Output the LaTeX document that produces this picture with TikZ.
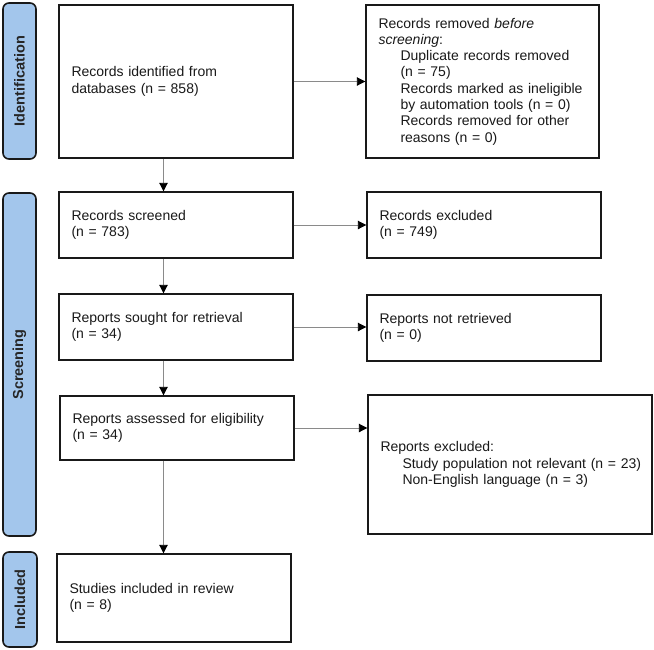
\documentclass[tikz,border=0pt]{standalone}
\usepackage{fontspec}
\setmainfont{Liberation Sans}
\usetikzlibrary{arrows.meta}
\definecolor{phaseblue}{HTML}{A3C6EC}
\definecolor{linegray}{HTML}{8A8A8A}
\tikzset{
  phase/.style={draw=black!90, line width=1.6pt, fill=phaseblue, rounded corners=6pt},
  phaselabel/.style={rotate=90, font=\fontsize{14.5}{17}\selectfont\bfseries, text=black!85},
  flowbox/.style={draw=black!90, line width=1.4pt, fill=white, inner xsep=12.5pt, inner ysep=0pt,
    align=left, font=\fontsize{14}{16.3}\selectfont, text=black!90},
  arr/.style={draw=linegray, line width=0.9pt,
    -{Triangle[length=8.5pt,width=8.5pt,color=black,fill=black]}},
}
\newcommand{\ind}{\hspace*{22pt}}
% place a box node from its corner coordinates (x1,y1)-(x2,y2)
\newcommand{\flowboxat}[6]{%
  \pgfmathsetmacro{\bw}{#4-#2}\pgfmathsetmacro{\bh}{#5-#3}%
  \pgfmathsetmacro{\tw}{\bw-25}%
  \node[flowbox, minimum width=\bw pt, minimum height=\bh pt, text width=\tw pt]
    (#1) at ({(#2+#4)/2},{(#3+#5)/2}) {#6};}
\begin{document}
\begin{tikzpicture}[x=1pt, y=-1pt]
\useasboundingbox (0,0) rectangle (654,649);

% phase bars
\draw[phase] (3,3) rectangle (36,159);
\node[phaselabel] (pid) at (19.5,81) {Identification};
\draw[phase] (3,193) rectangle (36,536);
\node[phaselabel] (psc) at (19.5,364.5) {Screening};
\draw[phase] (3,552) rectangle (37,647);
\node[phaselabel] (pin) at (20,599.5) {Included};

% boxes
\flowboxat{b1}{59}{5}{293}{158}{Records identified from\\databases (n = 858)}
\flowboxat{b2}{366}{5}{599}{158}{Records removed \emph{before}\\\emph{screening}:\\
  \ind Duplicate records removed\\\ind (n = 75)\\
  \ind Records marked as ineligible\\\ind by automation tools (n = 0)\\
  \ind Records removed for other\\\ind reasons (n = 0)}
\flowboxat{b3}{59}{192}{293}{258}{Records screened\\(n = 783)}
\flowboxat{b4}{367}{192}{601}{258}{Records excluded\\(n = 749)}
\flowboxat{b5}{59}{294}{293}{360}{Reports sought for retrieval\\(n = 34)}
\flowboxat{b6}{367}{295}{601}{361}{Reports not retrieved\\(n = 0)}
\flowboxat{b7}{60}{396}{294}{460}{Reports assessed for eligibility\\(n = 34)}
\flowboxat{b8}{368}{395}{652}{534}{Reports excluded:\\
  \ind\mbox{Study population not relevant (n = 23)}\\
  \ind Non-English language (n = 3)\\[6pt]}
\flowboxat{b9}{57}{554}{291}{642}{Studies included in review\\(n = 8)}

% main column of vertical connectors
\coordinate (colx) at (163.5,0);
\draw[arr] (b1.south -| colx) -- (b3.north -| colx);
\draw[arr] (b3.south -| colx) -- (b5.north -| colx);
\draw[arr] (b5.south -| colx) -- (b7.north -| colx);
\draw[arr] (b7.south -| colx) -- (b9.north -| colx);

% side connectors
\draw[arr] (b1.east) -- (b1.east -| b2.west);
\draw[arr] (b3.east) -- (b3.east -| b4.west);
\draw[arr] (b5.east) -- (b5.east -| b6.west);
\draw[arr] (b7.east) -- (b7.east -| b8.west);
\end{tikzpicture}
\end{document}
